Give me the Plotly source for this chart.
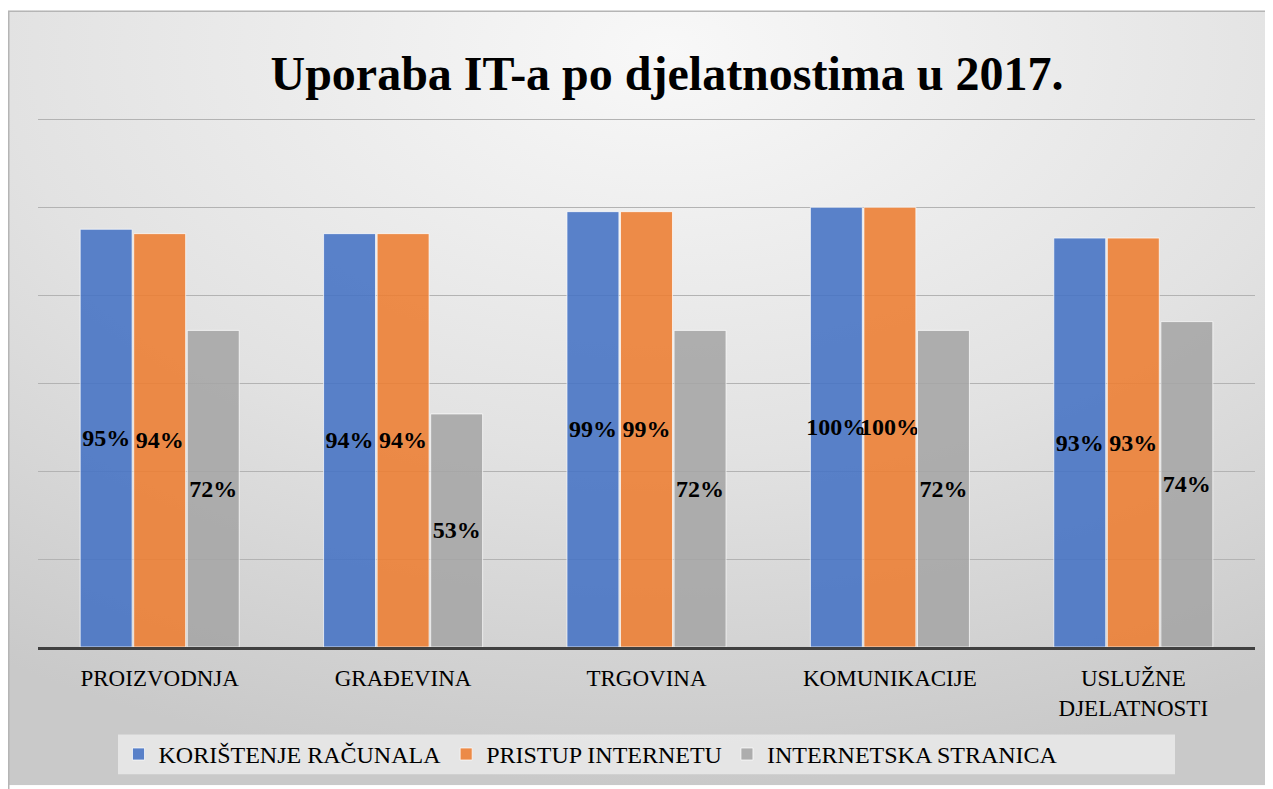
import base64
import plotly.graph_objects as go

categories = ["PROIZVODNJA", "GRAĐEVINA", "TRGOVINA", "KOMUNIKACIJE", "USLUŽNE<br>DJELATNOSTI"]
series_names = ["KORIŠTENJE RAČUNALA", "PRISTUP INTERNETU", "INTERNETSKA STRANICA"]
koristenje = [95, 94, 99, 100, 93]
pristup = [94, 94, 99, 100, 93]
stranica = [72, 53, 72, 72, 74]
colors = ["rgba(68,114,196,0.88)", "rgba(237,125,49,0.88)", "rgba(165,165,165,0.88)"]

OFF = 8  # page body margin
W, H = 1265, 781
ml, mr, mt, mb = 30, 18, 110, 139
pw, ph = W - ml - mr, H - mt - mb
SERIF = "Liberation Serif, Times New Roman, serif"

svg = """<svg xmlns='http://www.w3.org/2000/svg' width='1265' height='779' preserveAspectRatio='none'>
<defs><radialGradient id='g' cx='0.52' cy='0.05' r='0.95' fx='0.52' fy='0.05'>
<stop offset='0' stop-color='#f8f8f8'/><stop offset='0.55' stop-color='#e2e2e2'/><stop offset='1' stop-color='#c9c9c9'/>
</radialGradient></defs><rect width='1265' height='779' fill='url(#g)'/></svg>"""
src = "data:image/svg+xml;base64," + base64.b64encode(svg.encode()).decode()

fig = go.Figure()
for name, vals, col in zip(series_names, [koristenje, pristup, stranica], colors):
    fig.add_trace(go.Bar(
        x=categories, y=vals, name=name,
        marker=dict(color=col, line=dict(color="rgba(255,255,255,0.7)", width=1)),
        text=[f"<b>{v}%</b>" for v in vals], textposition="inside", insidetextanchor="middle",
        textangle=0,
        textfont=dict(family=SERIF, size=24, color="black"),
        cliponaxis=False,
    ))

def px_x(p):  # screen pixel -> paper
    return (p - OFF - ml) / pw

def px_y(p):
    return (H - mb - (p - OFF)) / ph

fig.add_layout_image(dict(
    source=src, xref="paper", yref="paper",
    x=px_x(8), y=px_y(10), sizex=px_x(1273) - px_x(8), sizey=px_y(10) - px_y(789),
    xanchor="left", yanchor="top", sizing="stretch", layer="below",
))
fig.add_shape(type="rect", xref="paper", yref="paper",
              x0=px_x(8.75), x1=px_x(1290), y0=px_y(10.75), y1=px_y(810),
              line=dict(color="#b5b5b5", width=1.5), fillcolor="rgba(0,0,0,0)", layer="below")
fig.add_shape(type="rect", xref="paper", yref="paper",
              x0=px_x(118), x1=px_x(1175), y0=px_y(778), y1=px_y(738),
              line=dict(width=0), fillcolor="rgba(238,238,238,0.75)", layer="below")

fig.update_layout(
    width=W, height=H,
    margin=dict(l=ml, r=mr, t=mt, b=mb),
    paper_bgcolor="white", plot_bgcolor="rgba(0,0,0,0)",
    barmode="group", bargap=0.34, bargroupgap=0.03,
    uniformtext=dict(mode="show", minsize=24),
    title=dict(text="<b>Uporaba IT-a po djelatnostima u 2017.</b>",
               font=dict(family=SERIF, size=48, color="black"),
               x=px_x(667), xref="paper", xanchor="center",
               y=1 - (73 - OFF) / H, yref="container", yanchor="middle"),
    font=dict(family=SERIF, color="black"),
    showlegend=True,
    legend=dict(orientation="h", x=px_x(591), xanchor="center", y=px_y(758), yanchor="middle",
                bgcolor="rgba(0,0,0,0)", font=dict(family=SERIF, size=24, color="black"),
                itemwidth=30, traceorder="normal"),
    xaxis=dict(showline=True, linecolor="#404040", linewidth=3, ticks="",
               tickfont=dict(family=SERIF, size=23, color="black"),
               ticklabelstandoff=8, showgrid=False),
    yaxis=dict(range=[0, 120.3], tickvals=[20, 40, 60, 80, 100, 120], showticklabels=False,
               showgrid=True, gridcolor="#b3b3b3", gridwidth=1, zeroline=False, ticks=""),
)

fig.write_html("out.html")
